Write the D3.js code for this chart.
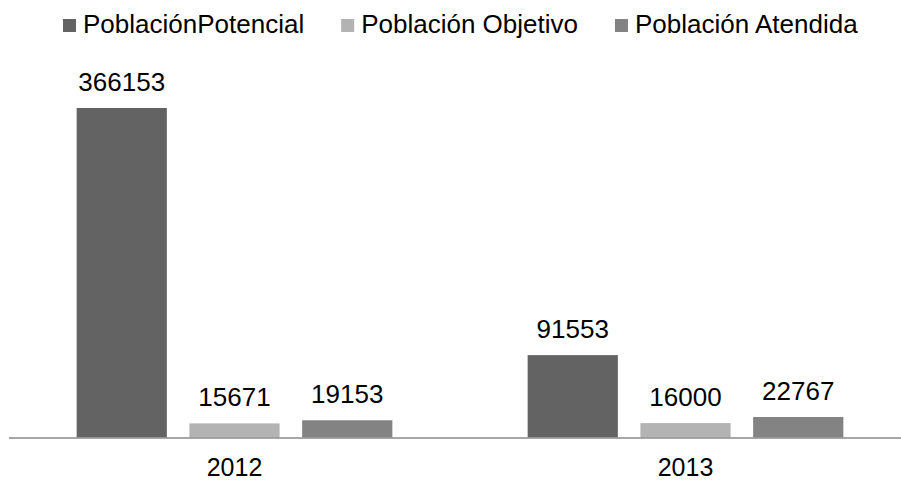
<!DOCTYPE html>
<html>
<head>
<meta charset="utf-8">
<script src="https://cdn.jsdelivr.net/npm/d3@7"></script>
<style>
  body { margin: 0; background: #fff; }
  text { font-family: "Liberation Sans", Arial, sans-serif; fill: #000; }
</style>
</head>
<body>
<div id="chart"></div>
<script>
const WIDTH = 901;
const HEIGHT = 481;
const BASE_Y = 437.5;

// data
var years = ["2012", "2013"];
var seriesNames = ["PoblaciónPotencial", "Población Objetivo", "Población Atendida"];
var potencial = [366153, 91553];
var objetivo = [15671, 16000];
var atendida = [19153, 22767];
var seriesColors = ["#636363", "#b3b3b3", "#838383"];

var seriesValues = [potencial, objetivo, atendida];

var translate = function(x, y){
  return "translate(" + x + "," + y + ")";
};

var svg = d3.select("#chart")
  .append("svg")
  .attr("width", WIDTH)
  .attr("height", HEIGHT);

var x0 = d3.scaleBand()
  .domain(years)
  .range([9, 911]);

var x1 = d3.scaleBand()
  .domain(seriesNames)
  .range([0, x0.bandwidth()])
  .paddingInner(0.2)
  .paddingOuter(0.6);

var yScale = d3.scaleLinear()
  .domain([0, 366153])
  .range([BASE_Y, 108]);

// flatten into rows for drawing
var rows = [];
years.forEach(function(yr, i){
  seriesNames.forEach(function(s, j){
    rows.push({year: yr, series: s, value: seriesValues[j][i], color: seriesColors[j]});
  });
});

svg.selectAll("rect.bar")
  .data(rows)
  .enter()
  .append("rect")
  .classed("bar", true)
  .attr("x", function(d){ return x0(d.year) + x1(d.series); })
  .attr("width", x1.bandwidth())
  .attr("y", function(d){ return yScale(d.value); })
  .attr("height", function(d){ return BASE_Y - yScale(d.value); })
  .style("fill", function(d){ return d.color; });

svg.selectAll("text.val")
  .data(rows)
  .enter()
  .append("text")
  .classed("val", true)
  .attr("x", function(d){ return x0(d.year) + x1(d.series) + x1.bandwidth() / 2; })
  .attr("y", function(d){ return yScale(d.value) - 17; })
  .attr("text-anchor", "middle")
  .style("font-size", "26px")
  .text(function(d){ return d.value; });

// x axis: category labels only, baseline drawn below
var xAxis = d3.axisBottom(x0).tickSize(0).tickPadding(21);
var gx = svg.append("g")
  .attr("transform", translate(0, BASE_Y))
  .call(xAxis);
gx.select(".domain").remove();
gx.selectAll("text")
  .style("font-size", "25px")
  .attr("font-family", null);

svg.append("line")
  .attr("x1", 9)
  .attr("x2", 901)
  .attr("y1", BASE_Y + 0.5)
  .attr("y2", BASE_Y + 0.5)
  .style("stroke", "#8a8a8a")
  .style("stroke-width", 1.6);

// legend
var legend = svg.append("g");
var lx = 63;
seriesNames.forEach(function(s, j){
  legend.append("rect")
    .attr("x", lx)
    .attr("y", 19)
    .attr("width", 13)
    .attr("height", 13)
    .style("fill", seriesColors[j]);
  var t = legend.append("text")
    .attr("x", lx + 20)
    .attr("y", 33)
    .style("font-size", "26px")
    .text(s);
  lx += 20 + t.node().getComputedTextLength() + 37;
});
</script>
</body>
</html>
